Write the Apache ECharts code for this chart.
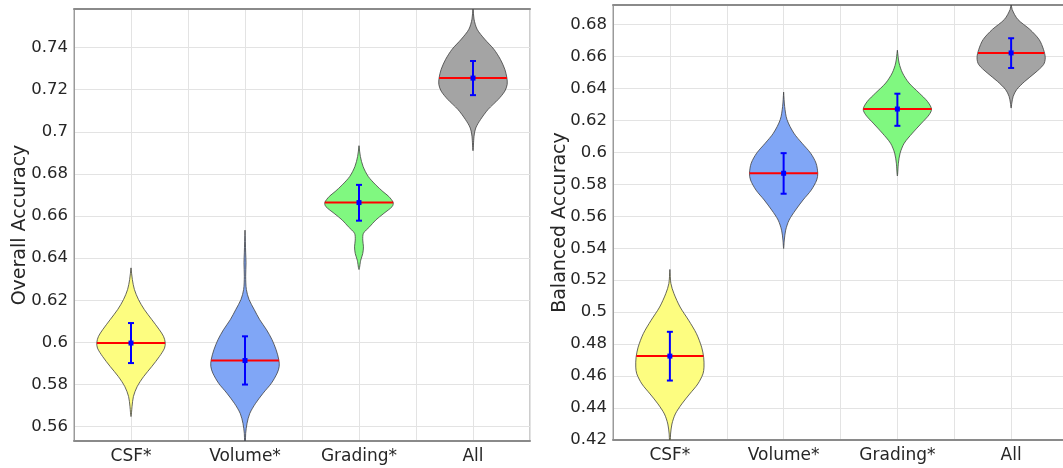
<!DOCTYPE html>
<html><head><meta charset="utf-8">
<script src="https://cdn.jsdelivr.net/npm/echarts@6/dist/echarts.min.js"></script>
<style>html,body{margin:0;padding:0;background:#fff}#c{width:1063px;height:468px}</style>
</head><body><div id="c"></div><script>
// ---------- data ----------
const categories = ['CSF*', 'Volume*', 'Grading*', 'All'];

// Overall accuracy: violin profiles (value, relative half-width 0..1)
const oaCsfY = [0.6354,0.6298,0.6251,0.6203,0.6156,0.6108,0.606,0.6029,0.600,0.5973,0.5933,0.5886,0.5838,0.579,0.5743,0.5695,0.5648];
const oaCsfW = [0,0.04,0.1,0.22,0.39,0.61,0.83,0.95,1,0.98,0.83,0.61,0.37,0.18,0.07,0.03,0];
const oaVolY = [0.6533,0.6425,0.6378,0.6314,0.6251,0.6203,0.6156,0.6108,0.606,0.6013,0.5965,0.5917,0.5886,0.5854,0.5806,0.5759,0.5711,0.5663,0.5616,0.5568,0.5532];
const oaVolW = [0,0.02,0.03,0.02,0.04,0.12,0.27,0.43,0.63,0.79,0.91,0.99,1,0.94,0.77,0.53,0.31,0.14,0.06,0.02,0.01];
const oaGraY = [0.6934,0.6883,0.6835,0.6788,0.6748,0.6716,0.6693,0.6664,0.6645,0.6613,0.6581,0.6549,0.6518,0.6486,0.6454,0.6422,0.639,0.6346];
const oaGraW = [0,0.04,0.12,0.27,0.49,0.7,0.87,1,0.97,0.73,0.49,0.31,0.13,0.11,0.13,0.11,0.05,0];
const oaAllY = [0.7591,0.7535,0.7487,0.744,0.7392,0.7344,0.7297,0.7257,0.7225,0.7193,0.7154,0.7106,0.7058,0.7018,0.6979,0.691];
const oaAllW = [0,0.03,0.12,0.34,0.61,0.8,0.93,0.99,1,0.93,0.74,0.44,0.22,0.08,0.03,0];
const oaMedian = [0.5997, 0.5914, 0.6664, 0.7255];
const oaErrLow = [0.5902, 0.5800, 0.6578, 0.7174];
const oaErrHigh = [0.6092, 0.6029, 0.6748, 0.7336];

// Balanced accuracy
const baCsfY = [0.5267,0.5179,0.5116,0.5032,0.4949,0.4865,0.4781,0.4718,0.4656,0.4614,0.4551,0.4488,0.4426,0.4363,0.43,0.4237,0.4196];
const baCsfW = [0,0.03,0.12,0.3,0.55,0.78,0.93,0.99,1,0.97,0.82,0.58,0.35,0.16,0.06,0.02,0.01];
const baVolY = [0.6377,0.6287,0.6204,0.612,0.6057,0.5995,0.5932,0.5869,0.5827,0.5764,0.5702,0.5639,0.5576,0.5513,0.5451,0.5398];
const baVolW = [0,0.03,0.1,0.3,0.54,0.79,0.95,1,0.97,0.81,0.57,0.35,0.16,0.06,0.02,0];
const baGraY = [0.6639,0.6559,0.6497,0.6434,0.6371,0.6319,0.6271,0.6235,0.6183,0.612,0.6057,0.5995,0.5932,0.5852];
const baGraW = [0,0.05,0.15,0.34,0.64,0.88,1,0.93,0.71,0.44,0.2,0.08,0.03,0];
const baAllY = [0.6935,0.6894,0.6831,0.6769,0.6706,0.6643,0.6591,0.6549,0.6497,0.6444,0.6392,0.635,0.6308,0.6277];
const baAllW = [0,0.03,0.2,0.55,0.82,0.95,1,0.95,0.7,0.4,0.16,0.06,0.02,0];
const baMedian = [0.4725, 0.5869, 0.6271, 0.6622];
const baErrLow = [0.4572, 0.5741, 0.6166, 0.6528];
const baErrHigh = [0.4877, 0.5995, 0.6367, 0.6714];

// ---------- styling ----------
const FILLS = ['#fdfd80', '#80a6f6', '#80f880', '#a4a4a4'];
const HALF = 0.3;
const FONT = 'DejaVu Sans';

const oaProfiles = [{y:oaCsfY,w:oaCsfW},{y:oaVolY,w:oaVolW},{y:oaGraY,w:oaGraW},{y:oaAllY,w:oaAllW}];
const baProfiles = [{y:baCsfY,w:baCsfW},{y:baVolY,w:baVolW},{y:baGraY,w:baGraW},{y:baAllY,w:baAllW}];

function widthAt(p, v) {
  for (let k = 0; k < p.y.length - 1; k++) {
    const a = p.y[k], b = p.y[k+1];
    if ((v <= a && v >= b) || (v >= a && v <= b)) {
      const t = (v - a) / (b - a || 1);
      return p.w[k] + t * (p.w[k+1] - p.w[k]);
    }
  }
  return 0;
}

function makeRender(profiles, med, lo, hi) {
  return function (params, api) {
    const i = params.dataIndex;
    const c = api.value(0);
    const p = profiles[i];
    const right = [], left = [];
    for (let k = 0; k < p.y.length; k++) {
      right.push(api.coord([c + p.w[k] * HALF, p.y[k]]));
      left.push(api.coord([c - p.w[k] * HALF, p.y[k]]));
    }
    const raw = right.concat(left.reverse());
    const pts = [];
    raw.forEach(q => {
      const l = pts[pts.length - 1];
      if (!l || Math.abs(l[0] - q[0]) > 0.01 || Math.abs(l[1] - q[1]) > 0.01) pts.push(q);
    });
    const wm = widthAt(p, med[i]);
    const a = api.coord([c - wm * HALF, med[i]]);
    const b = api.coord([c + wm * HALF, med[i]]);
    const t = api.coord([c, hi[i]]);
    const bt = api.coord([c, lo[i]]);
    const m = api.coord([c, med[i]]);
    const cap = 3;
    return {
      type: 'group',
      children: [
        { type: 'polygon', shape: { points: pts, smooth: 0.3 },
          style: { fill: FILLS[i], stroke: '#404040', lineWidth: 0.8 } },
        { type: 'line', shape: { x1: a[0], y1: a[1], x2: b[0], y2: b[1] },
          style: { stroke: '#ff0000', lineWidth: 2 } },
        { type: 'line', shape: { x1: t[0], y1: t[1], x2: bt[0], y2: bt[1] },
          style: { stroke: '#0000ff', lineWidth: 2 } },
        { type: 'line', shape: { x1: t[0] - cap, y1: t[1], x2: t[0] + cap, y2: t[1] },
          style: { stroke: '#0000ff', lineWidth: 2 } },
        { type: 'line', shape: { x1: bt[0] - cap, y1: bt[1], x2: bt[0] + cap, y2: bt[1] },
          style: { stroke: '#0000ff', lineWidth: 2 } },
        { type: 'rect', shape: { x: m[0] - 2.5, y: m[1] - 2.5, width: 5, height: 5 },
          style: { fill: '#0000ff' } }
      ]
    };
  };
}

function xAxisBottom(gi) {
  return {
    type: 'value', gridIndex: gi, min: 0.5, max: 4.5, interval: 0.5, position: 'bottom',
    axisLine: { show: true, lineStyle: { color: '#8a8a8a', width: 2 } },
    axisTick: { show: false },
    splitLine: { show: true, lineStyle: { color: '#e3e3e3', width: 1 } },
    axisLabel: {
      margin: 7, fontSize: 17, color: '#262626', fontFamily: FONT,
      formatter: v => {
        const r = Math.round(v);
        return (Math.abs(v - r) < 1e-6 && r >= 1 && r <= categories.length) ? categories[r - 1] : '';
      }
    }
  };
}
function xAxisTop(gi) {
  return {
    type: 'value', gridIndex: gi, min: 0.5, max: 4.5, position: 'top',
    axisLine: { show: true, lineStyle: { color: '#8a8a8a', width: 2 } },
    axisTick: { show: false }, axisLabel: { show: false }, splitLine: { show: false }
  };
}
function yAxis(gi, name, min, max, split, gap) {
  return {
    type: 'value', gridIndex: gi, min: min, max: max, splitNumber: split,
    name: name, nameLocation: 'middle', nameGap: gap, nameRotate: 90, nameMoveOverlap: false,
    nameTextStyle: { fontSize: 19, color: '#262626', fontFamily: FONT },
    axisLine: { show: true, lineStyle: { color: '#9a9a9a', width: 1 } },
    axisTick: { show: false },
    splitLine: { show: true, lineStyle: { color: '#e3e3e3', width: 1 } },
    axisLabel: { margin: 6, fontSize: 16.5, color: '#262626', fontFamily: FONT,
                 showMaxLabel: false }
  };
}

const chart = echarts.init(document.getElementById('c'), null, { renderer: 'canvas' });
chart.setOption({
  animation: false,
  backgroundColor: '#ffffff',
  grid: [
    { left: 74, top: 9, width: 456, height: 432, show: true, borderColor: '#9a9a9a', borderWidth: 1, outerBoundsMode: 'none' },
    { left: 613, top: 5, width: 455, height: 435, show: true, borderColor: '#9a9a9a', borderWidth: 1, outerBoundsMode: 'none' }
  ],
  xAxis: [xAxisBottom(0), xAxisTop(0), xAxisBottom(1), xAxisTop(1)],
  yAxis: [
    yAxis(0, 'Overall Accuracy', 0.5532, 0.7583, 10, 44),
    yAxis(1, 'Balanced Accuracy', 0.42, 0.6922, 13, 43)
  ],
  series: [
    { type: 'custom', xAxisIndex: 0, yAxisIndex: 0, clip: true,
      renderItem: makeRender(oaProfiles, oaMedian, oaErrLow, oaErrHigh),
      encode: { x: 0, y: 1 },
      data: categories.map((_, i) => [i + 1, oaMedian[i]]) },
    { type: 'custom', xAxisIndex: 2, yAxisIndex: 1, clip: true,
      renderItem: makeRender(baProfiles, baMedian, baErrLow, baErrHigh),
      encode: { x: 0, y: 1 },
      data: categories.map((_, i) => [i + 1, baMedian[i]]) }
  ]
});
</script></body></html>
